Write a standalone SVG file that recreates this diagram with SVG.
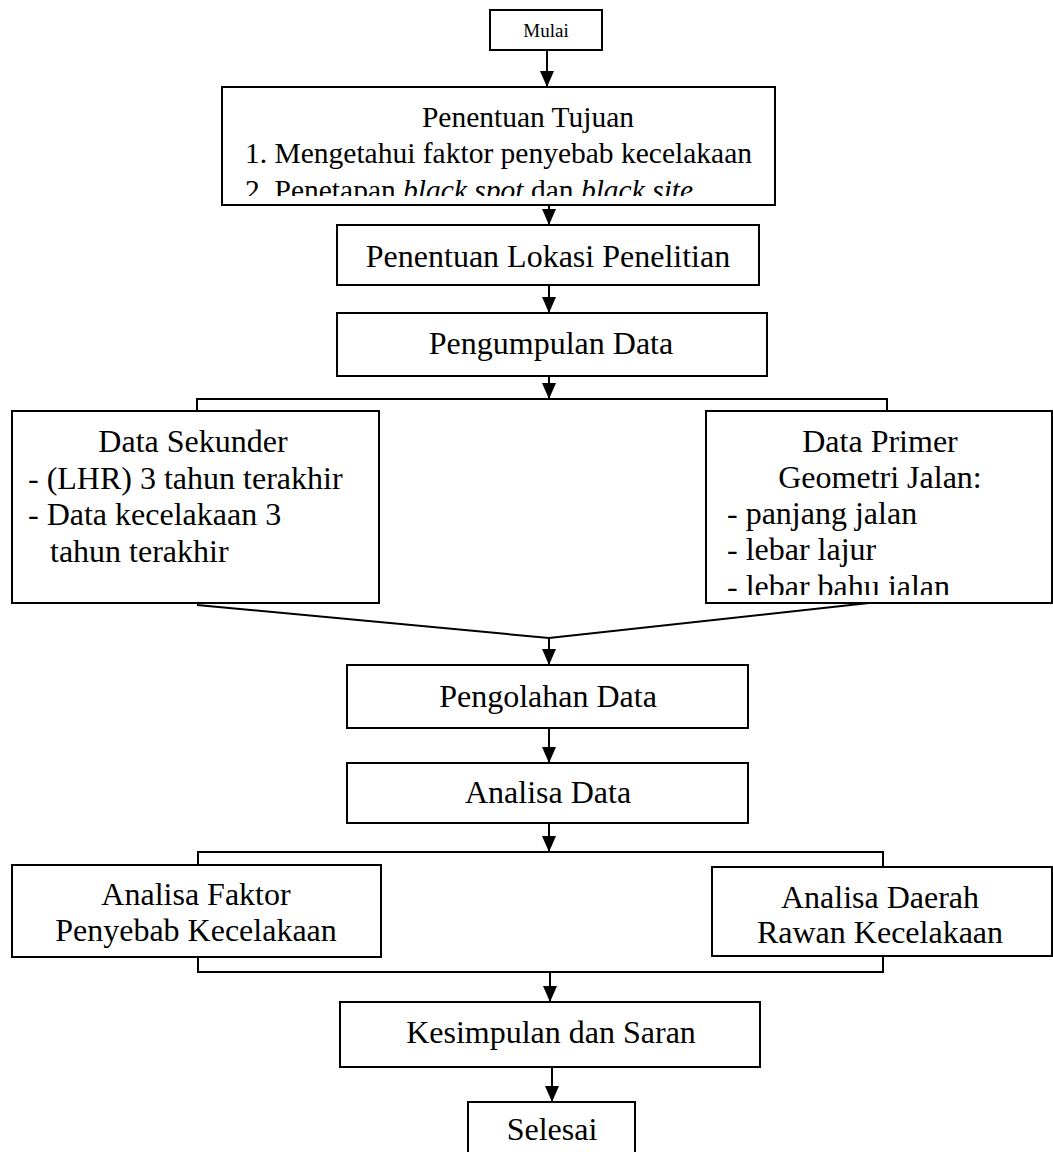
<svg xmlns="http://www.w3.org/2000/svg" width="1053" height="1152" viewBox="0 0 1053 1152">
<style>
.box{fill:#fff;stroke:#000;stroke-width:2}
.t{font-family:"Liberation Serif","Times New Roman",serif;font-size:32px;fill:#000}
.c{text-anchor:middle}
.ln{fill:none;stroke:#000;stroke-width:2}
.ar{fill:none;stroke:#000;stroke-width:2;marker-end:url(#ah)}
</style>
<defs>
<marker id="ah" markerUnits="userSpaceOnUse" markerWidth="16" markerHeight="16" refX="16" refY="7" orient="auto">
<path d="M0,0 L16,7 L0,14 z" fill="#000"/>
</marker>
<clipPath id="clipTujuan"><rect x="222" y="87" width="553" height="109"/></clipPath>
<clipPath id="clipPrimer"><rect x="706" y="411" width="346" height="184"/></clipPath>
</defs>
<g id="connectors">
<path class="ar" d="M547,50 L547,87"/>
<path class="ar" d="M549,205 L549,225"/>
<path class="ar" d="M549,285 L549,313"/>
<path class="ar" d="M549,376 L549,399"/>
<path class="ln" d="M197,411 L197,399 L887,399 L887,411"/>
<path class="ln" d="M197,605 L549,638 L887,601"/>
<path class="ar" d="M549,638 L549,665"/>
<path class="ar" d="M549,728 L549,763"/>
<path class="ar" d="M549,823 L549,852"/>
<path class="ln" d="M198,865 L198,852 L883,852 L883,867"/>
<path class="ln" d="M198,957 L198,972 L883,972 L883,956"/>
<path class="ar" d="M550,972 L550,1002"/>
<path class="ar" d="M552,1067 L552,1102"/>
</g>
<g id="mulai">
<rect class="box" x="490" y="10" width="112" height="40"/>
<text class="t c" x="546" y="37" style="font-size:19px">Mulai</text>
</g>
<g id="tujuan">
<rect class="box" x="222" y="87" width="553" height="118"/>
<g clip-path="url(#clipTujuan)" style="font-size:29.5px">
<text class="t c" x="528" y="127" style="font-size:29.5px">Penentuan Tujuan</text>
<text class="t" x="245" y="163" style="font-size:29.5px">1. Mengetahui faktor penyebab kecelakaan</text>
<text class="t" x="245" y="200" style="font-size:29.5px">2. Penetapan <tspan font-style="italic">black spot</tspan> dan <tspan font-style="italic">black site</tspan></text>
</g>
</g>
<g id="lokasi">
<rect class="box" x="337" y="225" width="422" height="60"/>
<text class="t c" x="548" y="267">Penentuan Lokasi Penelitian</text>
</g>
<g id="pengumpulan">
<rect class="box" x="337" y="313" width="430" height="63"/>
<text class="t c" x="551" y="354">Pengumpulan Data</text>
</g>
<g id="sekunder">
<rect class="box" x="12" y="411" width="367" height="192"/>
<text class="t c" x="193" y="452">Data Sekunder</text>
<text class="t" x="28" y="489">- (LHR) 3 tahun terakhir</text>
<text class="t" x="28" y="525">- Data kecelakaan 3</text>
<text class="t" x="50" y="562">tahun terakhir</text>
</g>
<g id="primer">
<rect class="box" x="706" y="411" width="346" height="192"/>
<g clip-path="url(#clipPrimer)">
<text class="t c" x="880" y="452">Data Primer</text>
<text class="t c" x="880" y="488">Geometri Jalan:</text>
<text class="t" x="727" y="524">- panjang jalan</text>
<text class="t" x="727" y="560">- lebar lajur</text>
<text class="t" x="727" y="597">- lebar bahu jalan</text>
</g>
</g>
<g id="pengolahan">
<rect class="box" x="347" y="665" width="401" height="63"/>
<text class="t c" x="548" y="707">Pengolahan Data</text>
</g>
<g id="analisa">
<rect class="box" x="347" y="763" width="401" height="60"/>
<text class="t c" x="548" y="803">Analisa Data</text>
</g>
<g id="faktor">
<rect class="box" x="12" y="865" width="369" height="92"/>
<text class="t c" x="196" y="905">Analisa Faktor</text>
<text class="t c" x="196" y="941">Penyebab Kecelakaan</text>
</g>
<g id="daerah">
<rect class="box" x="712" y="867" width="340" height="89"/>
<text class="t c" x="880" y="908">Analisa Daerah</text>
<text class="t c" x="880" y="943">Rawan Kecelakaan</text>
</g>
<g id="kesimpulan">
<rect class="box" x="340" y="1002" width="420" height="65"/>
<text class="t c" x="551" y="1043">Kesimpulan dan Saran</text>
</g>
<g id="selesai">
<rect class="box" x="468" y="1102" width="167" height="60"/>
<text class="t c" x="552" y="1140">Selesai</text>
</g>
</svg>
